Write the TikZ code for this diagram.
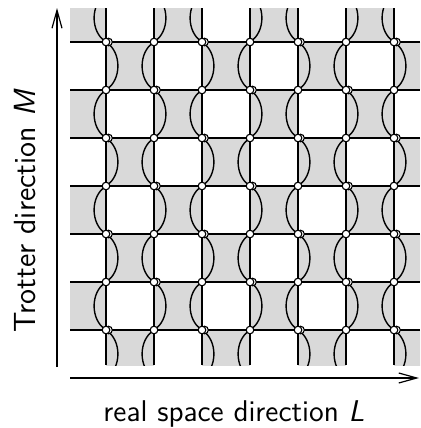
\documentclass[tikz,border=0pt]{standalone}
\usetikzlibrary{arrows.meta}
\definecolor{plaqGrey}{HTML}{D9D9D9}
\tikzset{
  latline/.style={black, line width=0.7pt},
  spinpt/.style={draw=black, fill=white, line width=0.55pt},
  dirarrow/.style={line width=0.6pt, -{Straight Barb[length=9pt,width=5pt]}},
  dirlabel/.style={font=\sffamily\fontsize{15}{17}\selectfont, inner sep=0pt}
}

\begin{document}
\begin{tikzpicture}[x=0.5pt,y=-0.5pt]
  \useasboundingbox (0,0) rectangle (420,428);
  % checkerboard of plaquettes, clipped to the window
  \begin{scope}
    \clip (70,8) rectangle (420,365);
    \foreach \i in {0,...,7}
      \foreach \j in {0,...,7}{
        \pgfmathtruncatemacro{\parity}{mod(\i+\j,2)}
        \ifnum\parity=0
          \fill[plaqGrey] (58+48*\i,-6+48*\j) rectangle ++(48,48);
        \fi
      }
    % world lines
    \foreach \k in {0,...,6}
      \draw[latline] (106+48*\k,8) -- (106+48*\k,365);
    \foreach \m in {0,...,6}
      \draw[latline] (70,42+48*\m) -- (420,42+48*\m);
    % arcs bulging into the grey plaquettes
    \foreach \k in {0,...,6}
      \foreach \j in {0,...,7}{
        \pgfmathtruncatemacro{\parity}{mod(\k+\j,2)}
        \ifnum\parity=0
          \draw[latline] (106+48*\k,-6+48*\j) to[bend right=58] (106+48*\k,42+48*\j);
        \else
          \draw[latline] (106+48*\k,-6+48*\j) to[bend left=58] (106+48*\k,42+48*\j);
        \fi
      }
  \end{scope}
  % vertices
  \foreach \k in {0,...,6}
    \foreach \m in {0,...,6}{
      \pgfmathtruncatemacro{\parity}{mod(\k+\m,2)}
      \ifnum\parity=0
        \draw[spinpt] (108.5+48*\k,42+48*\m) circle[radius=1.9pt];
      \fi
      \draw[spinpt] (106+48*\k,42+48*\m) circle[radius=1.9pt];
    }
  % axes
  \coordinate (mBot) at (57,367);
  \coordinate (mTop) at (57,8);
  \coordinate (lLeft) at (70,378);
  \coordinate (lRight) at (419,378);
  \draw[dirarrow] (mBot) -- (mTop);
  \draw[dirarrow] (lLeft) -- (lRight);
  \node[dirlabel, anchor=base] (lLabel) at (234,421) {real space direction \textsl{L}};
  \node[dirlabel, font=\sffamily\fontsize{15.3}{17}\selectfont, rotate=90, anchor=base] (mLabel) at (35,211) {Trotter direction \textsl{M}};
\end{tikzpicture}
\end{document}
